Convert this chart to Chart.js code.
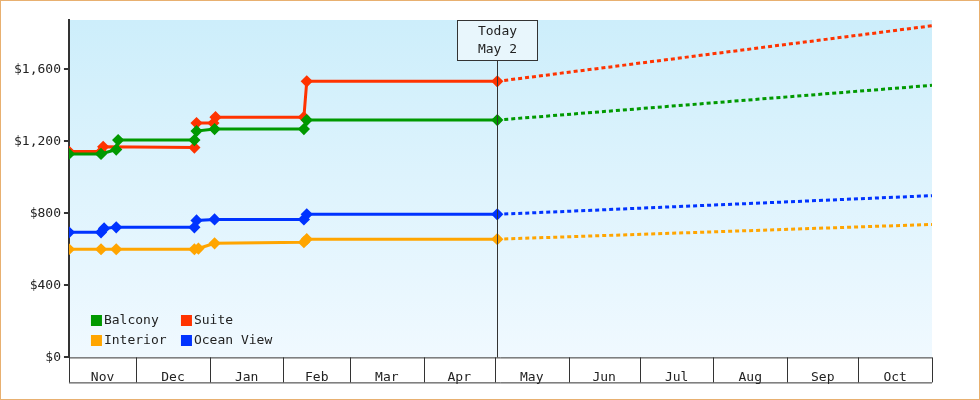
<!DOCTYPE html>
<html>
<head>
<meta charset="utf-8">
<script src="https://cdn.jsdelivr.net/npm/chart.js@4"></script>
<style>
  html, body { margin: 0; padding: 0; background: #fff; }
  #wrap { width: 978px; height: 398px; border: 1px solid #e8b070; }
</style>
</head>
<body>
<div id="wrap"><canvas id="c" width="978" height="398"></canvas></div>
<script>
// x values are days counted from Nov 1
const monthNames = ['Nov', 'Dec', 'Jan', 'Feb', 'Mar', 'Apr', 'May', 'Jun', 'Jul', 'Aug', 'Sep', 'Oct'];
const monthStarts = [0, 30, 61, 92, 120, 151, 181, 212, 242, 273, 304, 334, 365];
const yTicks = [0, 400, 800, 1200, 1600];
const todayDay = 182;
const todayLabel = ['Today', 'May 2'];

const seriesNames = ['Balcony', 'Suite', 'Interior', 'Ocean View'];
const seriesColors = ['#009900', '#ff3300', '#ffa500', '#0033ff'];

const balconyPts = [[1.7, 1131], [15.2, 1131], [21.6, 1155], [22.4, 1208], [54.5, 1208], [55.4, 1258], [63, 1269], [100.6, 1269], [101.8, 1319], [182, 1319]];
const suitePts = [[1.7, 1144], [15.2, 1144], [16.1, 1170], [54.5, 1166], [55.4, 1302], [62.5, 1302], [63.4, 1335], [100.6, 1335], [101.8, 1534], [182, 1534]];
const interiorPts = [[1.7, 601], [15.2, 601], [21.6, 601], [54.5, 601], [56.2, 605], [63, 634], [100.6, 640], [101.8, 657], [182, 657]];
const oceanPts = [[1.7, 695], [15.2, 695], [16.5, 717], [21.6, 723], [54.5, 723], [55.4, 761], [63, 767], [100.6, 767], [101.8, 795], [182, 795]];

const balconyProj = [[182, 1319], [365, 1512]];
const suiteProj = [[182, 1534], [365, 1843]];
const interiorProj = [[182, 657], [365, 739]];
const oceanProj = [[182, 795], [365, 899]];

const solid = [balconyPts, suitePts, interiorPts, oceanPts];
const proj = [balconyProj, suiteProj, interiorProj, oceanProj];

const toXY = arr => arr.map(p => ({ x: p[0], y: p[1] }));
const datasets = [];
proj.forEach((p, i) => datasets.push({
    data: toXY(p), borderColor: seriesColors[i], borderWidth: 3,
    borderDash: [4, 3], pointRadius: 0, fill: false
}));
solid.forEach((p, i) => datasets.push({
    data: toXY(p), borderColor: seriesColors[i], backgroundColor: seriesColors[i],
    borderWidth: 3, pointStyle: 'rectRot', pointRadius: 4, fill: false
}));

const mono = "'DejaVu Sans Mono', monospace";

const decor = {
    id: 'decor',
    beforeDraw(chart) {
        const { ctx, chartArea: a } = chart;
        const g = ctx.createLinearGradient(0, a.top, 0, a.bottom);
        g.addColorStop(0, '#cdeefb');
        g.addColorStop(1, '#f0f9ff');
        ctx.fillStyle = g;
        ctx.fillRect(a.left, a.top, a.right - a.left, a.bottom - a.top);
    },
    afterDraw(chart) {
        const { ctx, chartArea: a, scales } = chart;
        const xs = scales.x;
        ctx.save();
        // month boxes
        ctx.strokeStyle = '#333';
        ctx.lineWidth = 1;
        ctx.beginPath();
        monthStarts.forEach(d => {
            let px = Math.max(xs.getPixelForValue(d), a.left);
            px = Math.round(px) + 0.5;
            ctx.moveTo(px, a.bottom);
            ctx.lineTo(px, a.bottom + 25);
        });
        ctx.moveTo(a.left, a.bottom + 25.5);
        ctx.lineTo(a.right, a.bottom + 25.5);
        ctx.moveTo(a.left, a.bottom + 0.5);
        ctx.lineTo(a.right, a.bottom + 0.5);
        ctx.stroke();
        // today marker
        const tx = Math.round(xs.getPixelForValue(todayDay)) + 0.5;
        ctx.beginPath();
        ctx.moveTo(tx, a.top + 40);
        ctx.lineTo(tx, a.bottom);
        ctx.stroke();
        ctx.fillStyle = '#e8f6fc';
        ctx.fillRect(tx - 40, a.top, 80, 40);
        ctx.strokeRect(tx - 40, a.top + 0.5, 80, 40);
        ctx.fillStyle = '#222';
        ctx.font = '13px ' + mono;
        ctx.textAlign = 'center';
        ctx.textBaseline = 'middle';
        ctx.fillText(todayLabel[0], tx, a.top + 12);
        ctx.fillText(todayLabel[1], tx, a.top + 30);
        // legend
        const order = [[0, 0, 0], [1, 1, 0], [2, 0, 1], [3, 1, 1]];
        ctx.textAlign = 'left';
        order.forEach(([i, col, row]) => {
            const lx = a.left + 22 + col * 90;
            const ly = a.top + 300 + row * 20;
            ctx.fillStyle = seriesColors[i];
            ctx.fillRect(lx, ly - 5, 11, 11);
            ctx.fillStyle = '#222';
            ctx.fillText(seriesNames[i], lx + 13, ly + 1);
        });
        ctx.restore();
    }
};

new Chart(document.getElementById('c'), {
    type: 'line',
    data: { datasets },
    options: {
        responsive: false,
        animation: false,
        layout: { padding: { left: 10, right: 47, top: 19, bottom: 10 } },
        plugins: { legend: { display: false }, tooltip: { enabled: false } },
        scales: {
            x: {
                type: 'linear', min: 1.7, max: 365,
                afterBuildTicks: s => {
                    s.ticks = monthStarts.slice(0, 12).map((d, i) =>
                        ({ value: Math.max(d, 1.7) / 2 + monthStarts[i + 1] / 2 - (d < 1.7 ? 0 : 0) }));
                },
                ticks: {
                    color: '#222', font: { family: mono, size: 13 }, padding: 4,
                    callback: (v, i) => monthNames[i]
                },
                grid: { display: false },
                border: { display: false }
            },
            y: {
                min: 0, max: 1875,
                afterBuildTicks: s => { s.ticks = yTicks.map(v => ({ value: v })); },
                ticks: {
                    color: '#222', font: { family: mono, size: 13 }, padding: 3,
                    callback: v => '$' + v.toLocaleString('en-US')
                },
                grid: { drawOnChartArea: false, tickLength: 5, color: '#333', lineWidth: 2 },
                border: { color: '#333', width: 2 }
            }
        }
    },
    plugins: [decor]
});
</script>
</body>
</html>
